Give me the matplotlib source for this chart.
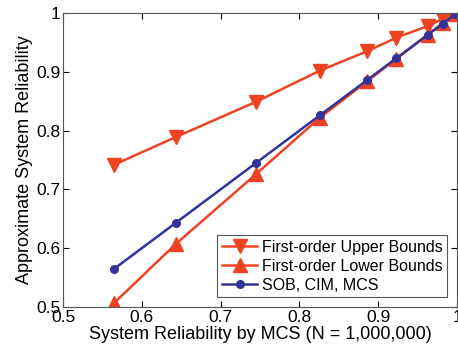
import numpy as np
import matplotlib.pyplot as plt

plt.rcParams['font.family'] = ['Liberation Sans', 'DejaVu Sans']

# reliability by MCS (x) and approximations (y)
mcs = [0.565, 0.643, 0.745, 0.826, 0.886, 0.923, 0.963, 0.982, 0.998]
upper = [0.742, 0.789, 0.849, 0.902, 0.935, 0.958, 0.978, 0.990, 1.000]
lower = [0.507, 0.607, 0.726, 0.822, 0.884, 0.922, 0.963, 0.983, 0.998]
sob = [0.565, 0.643, 0.745, 0.826, 0.886, 0.923, 0.963, 0.982, 0.998]

red = '#ee4222'
blue = '#33339a'

fig = plt.figure(figsize=(4.58, 3.54), dpi=100)
ax = fig.add_axes([63 / 458, 1 - 307 / 354, 394 / 458, 294 / 354])

ax.plot(mcs, upper, color=red, lw=1.8, marker='v', ms=10, label='First-order Upper Bounds')
ax.plot(mcs, lower, color=red, lw=1.8, marker='^', ms=10, label='First-order Lower Bounds')
ax.plot(mcs, sob, color=blue, lw=1.8, marker='o', ms=5.5, label='SOB, CIM, MCS')

ax.set_xlim(0.5, 1)
ax.set_ylim(0.5, 1)
ax.set_xticks([0.5, 0.6, 0.7, 0.8, 0.9, 1])
ax.set_yticks([0.5, 0.6, 0.7, 0.8, 0.9, 1])
ax.set_xticklabels(['0.5', '0.6', '0.7', '0.8', '0.9', '1'])
ax.set_yticklabels(['0.5', '0.6', '0.7', '0.8', '0.9', '1'])
ax.tick_params(direction='in', top=True, right=True, labelsize=12.5, length=4, pad=2)
for s in ax.spines.values():
    s.set_color('#555555')
    s.set_linewidth(0.8)

ax.set_xlabel('System Reliability by MCS (N = 1,000,000)', fontsize=13, labelpad=1)
ax.set_ylabel('Approximate System Reliability', fontsize=13, labelpad=2)

leg = ax.legend(loc='lower right', fontsize=11.5, fancybox=False, framealpha=1,
                edgecolor='#555555', borderpad=0.3, labelspacing=0.25,
                handlelength=2.2, handletextpad=0.3, borderaxespad=0.6)
leg.get_frame().set_linewidth(0.8)

fig.savefig('out.png', dpi=100)
